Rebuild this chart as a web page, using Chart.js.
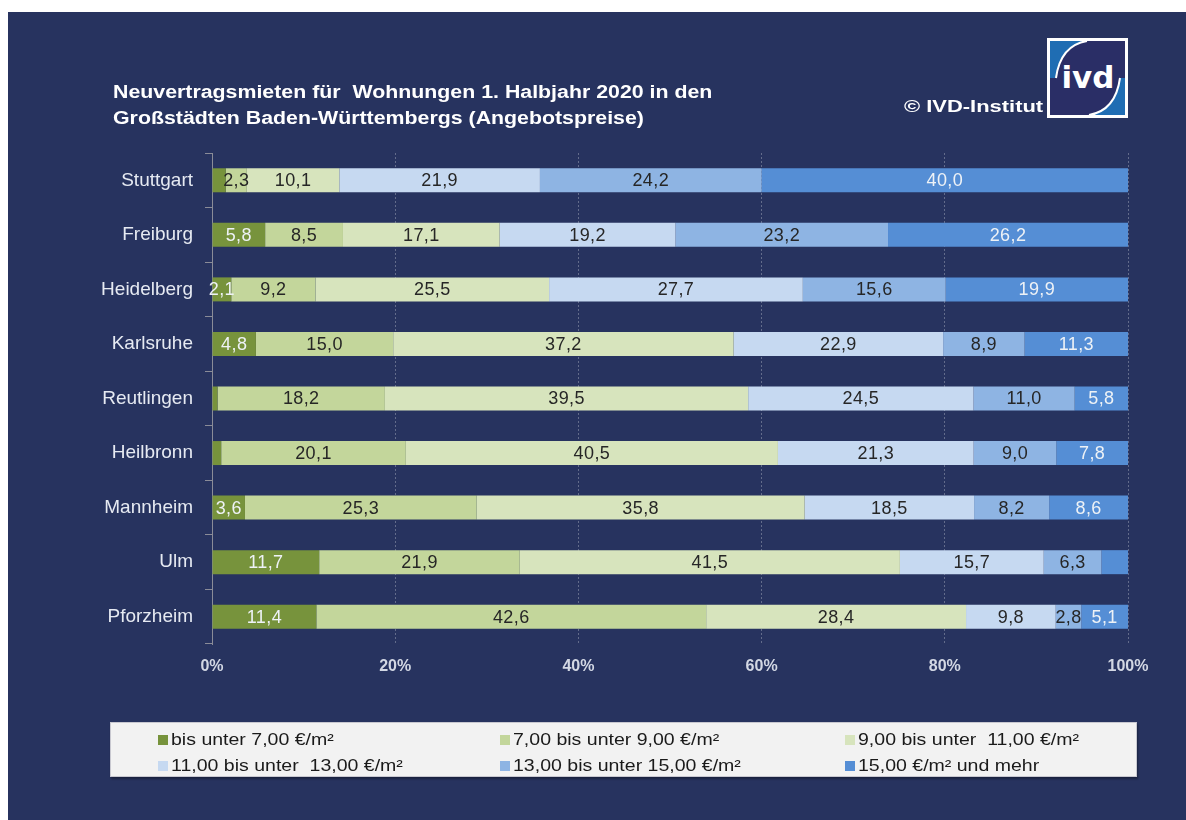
<!DOCTYPE html>
<html>
<head>
<meta charset="utf-8">
<script src="https://cdn.jsdelivr.net/npm/chart.js@4.4.1/dist/chart.umd.min.js"></script>
<style>
  html, body { margin: 0; padding: 0; background: #ffffff; }
  #wrap { position: relative; width: 1186px; height: 820px; overflow: hidden; }
  #bg { position: absolute; left: 8px; top: 12px; right: 0; bottom: 0; background: #27335f; }
  #c { position: absolute; left: 0; top: 0; }
  #title { position: absolute; left: 113px; top: 79px; color: #ffffff; font: bold 18px "Liberation Sans", Arial, sans-serif; line-height: 26px; white-space: nowrap; transform: scaleX(1.185); transform-origin: 0 0; }
  #copy { position: absolute; left: 904px; top: 98px; color: #ffffff; font: bold 16px "Liberation Sans", Arial, sans-serif; white-space: nowrap; transform: scaleX(1.37); transform-origin: 0 0; }
  #logo { position: absolute; left: 1047px; top: 38px; }
  #legend { position: absolute; left: 110px; top: 722px; width: 1025px; height: 53px; background: #f2f2f2; border: 1px solid #c8c8d0; box-shadow: 1px 2px 2px rgba(0,0,0,0.35); }
  .li { position: absolute; font: 16px "Liberation Sans", Arial, sans-serif; color: #1a1a1a; white-space: pre; line-height: 18px; }
  .sw { position: absolute; left: 0; top: 4px; width: 10px; height: 10px; }
  .tx { position: absolute; left: 13px; top: 0; transform: scaleX(1.22); transform-origin: 0 0; }
</style>
</head>
<body>
<div id="wrap">
  <div id="bg"></div>
  <canvas id="c" width="1186" height="820"></canvas>
  <div id="title">Neuvertragsmieten für&nbsp; Wohnungen 1. Halbjahr 2020 in den<br>Großstädten Baden-Württembergs (Angebotspreise)</div>
  <div id="copy">© IVD-Institut</div>
  <svg id="logo" width="81" height="80" viewBox="0 0 81 80">
    <rect x="0" y="0" width="81" height="80" fill="#ffffff"/>
    <rect x="3" y="3" width="75" height="74" fill="#2a2e66"/>
    <path d="M3 3 L40 3 C22 6 12 18 9 40 L3 40 Z" fill="#1f6db3"/>
    <path d="M78 77 L42 77 C60 74 70 62 73 40 L78 40 Z" fill="#1f6db3"/>
    <path d="M40 3 C22 6 12 18 9 40" stroke="#ffffff" stroke-width="2" fill="none"/>
    <path d="M42 77 C60 74 70 62 73 40" stroke="#ffffff" stroke-width="2" fill="none"/>
    <text x="41" y="50" text-anchor="middle" fill="#ffffff" font-family="DejaVu Sans, Liberation Sans, sans-serif" font-weight="bold" font-size="31">ivd</text>
  </svg>
  <div id="legend"></div>
</div>
<script>
// ---- data ----
const cities = ['Stuttgart','Freiburg','Heidelberg','Karlsruhe','Reutlingen','Heilbronn','Mannheim','Ulm','Pforzheim'];
const seriesNames = ['bis unter 7,00 €/m²','7,00 bis unter 9,00 €/m²','9,00 bis unter  11,00 €/m²','11,00 bis unter  13,00 €/m²','13,00 bis unter 15,00 €/m²','15,00 €/m² und mehr'];
const below7   = [1.5, 5.8, 2.1, 4.8, 0.6, 1.0, 3.6, 11.7, 11.4];
const from7to9 = [2.3, 8.5, 9.2, 15.0, 18.2, 20.1, 25.3, 21.9, 42.6];
const from9to11 = [10.1, 17.1, 25.5, 37.2, 39.5, 40.5, 35.8, 41.5, 28.4];
const from11to13 = [21.9, 19.2, 27.7, 22.9, 24.5, 21.3, 18.5, 15.7, 9.8];
const from13to15 = [24.2, 23.2, 15.6, 8.9, 11.0, 9.0, 8.2, 6.3, 2.8];
const above15 = [40.0, 26.2, 19.9, 11.3, 5.8, 7.8, 8.6, 2.9, 5.1];
const xTicks = [0, 20, 40, 60, 80, 100];
// segments printed without a value label in the original: [seriesIndex, cityIndex]
const unlabeled = [[0,0],[0,4],[0,5],[5,7]];

// ---- styles ----
const colors = ['#77933c','#c3d69b','#d7e4bd','#c6d9f1','#8eb4e3','#558ed5'];
const labelColors = ['#eef2f6','#262626','#262626','#262626','#262626','#eef2f6'];
const FONT = '"Liberation Sans", Arial, sans-serif';

const allSeries = [below7, from7to9, from9to11, from11to13, from13to15, above15];
const rowSums = cities.map((_, i) => allSeries.reduce((s, a) => s + a[i], 0));

const datasets = allSeries.map((arr, si) => ({
  label: seriesNames[si],
  data: arr.map((v, i) => v / rowSums[i] * 100),
  raw: arr,
  backgroundColor: colors[si],
  borderWidth: 0,
  barPercentage: 0.44,
  categoryPercentage: 1.0
}));

const labelPlugin = {
  id: 'segLabels',
  afterDatasetsDraw(chart) {
    const ctx = chart.ctx;
    ctx.save();
    ctx.font = '18px ' + FONT;
    if ('letterSpacing' in ctx) ctx.letterSpacing = '0.4px';
    ctx.textAlign = 'center';
    ctx.textBaseline = 'middle';
    chart.data.datasets.forEach((ds, si) => {
      const meta = chart.getDatasetMeta(si);
      meta.data.forEach((el, ci) => {
        if (unlabeled.some(p => p[0] === si && p[1] === ci)) return;
        const txt = ds.raw[ci].toFixed(1).replace('.', ',');
        ctx.fillStyle = labelColors[si];
        ctx.fillText(txt, (el.x + el.base) / 2, el.y + 1);
      });
    });
    ctx.restore();
  }
};

new Chart(document.getElementById('c'), {
  type: 'bar',
  data: { labels: cities, datasets },
  options: {
    indexAxis: 'y',
    responsive: false,
    animation: false,
    layout: { padding: { left: 20, top: 153, right: 58, bottom: 136 } },
    plugins: { legend: { display: false }, tooltip: { enabled: false }, title: { display: false } },
    scales: {
      x: {
        stacked: true, min: 0, max: 100,
        afterFit(s) { s.height = 40; },
        afterBuildTicks(s) { s.ticks = xTicks.map(v => ({ value: v })); },
        ticks: { color: '#d3d8e4', font: { family: FONT, size: 16, weight: 'bold' }, padding: 13, callback: v => v + '%' },
        grid: { color: 'rgba(150,155,175,0.55)', lineWidth: 1, drawTicks: false },
        border: { display: false, dash: [2, 2] }
      },
      y: {
        stacked: true,
        afterFit(s) { s.width = 192; },
        ticks: { color: '#e6eaf2', font: { family: FONT, size: 19 }, padding: 12 },
        grid: { offset: true, drawOnChartArea: false, drawTicks: true, tickLength: 7, color: '#8a8c98' },
        border: { display: true, color: '#8a8c98', width: 1 }
      }
    }
  },
  plugins: [labelPlugin]
});

// ---- HTML legend built from series names ----
const legend = document.getElementById('legend');
const colLeft = [47, 389, 734];
const rowTop = [8, 34];
seriesNames.forEach((name, i) => {
  const d = document.createElement('div');
  d.className = 'li';
  d.style.left = colLeft[i % 3] + 'px';
  d.style.top = rowTop[Math.floor(i / 3)] + 'px';
  const sw = document.createElement('span');
  sw.className = 'sw';
  sw.style.background = colors[i];
  const tx = document.createElement('span');
  tx.className = 'tx';
  tx.textContent = name;
  d.appendChild(sw);
  d.appendChild(tx);
  legend.appendChild(d);
});
</script>
</body>
</html>
